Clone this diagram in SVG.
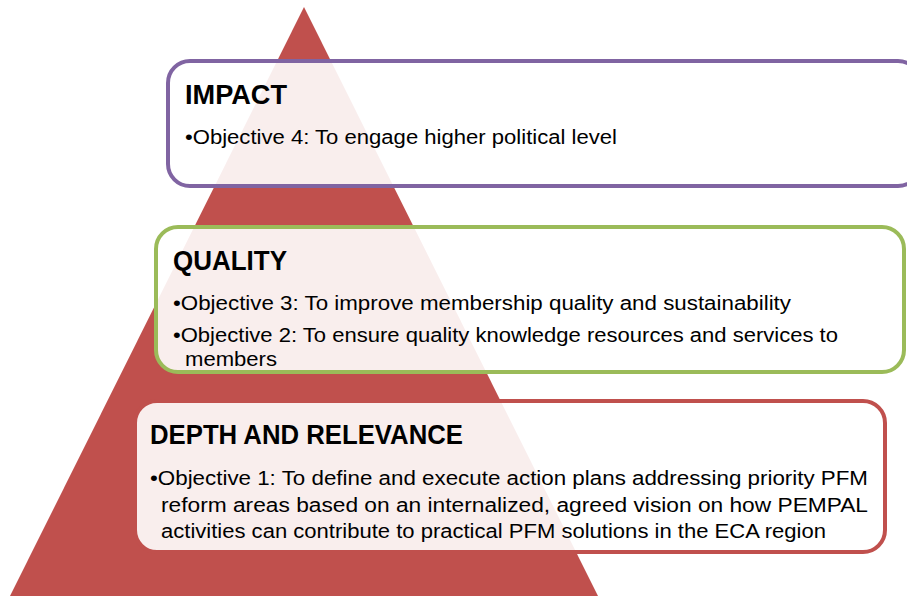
<svg xmlns="http://www.w3.org/2000/svg" width="907" height="596" viewBox="0 0 907 596">
<style>
.box{fill:#ffffff;fill-opacity:0.9;stroke-width:4}
.h{font-family:"Liberation Sans",Arial,sans-serif;font-weight:bold;font-size:27px;fill:#000}
.t{font-family:"Liberation Sans",Arial,sans-serif;font-size:20px;fill:#000}
</style>
<rect width="907" height="596" fill="#ffffff"/>
<polygon id="pyramid" points="304,7 10,596 598,596" fill="#C0504D"/>
<g id="impact">
<rect class="box" x="168" y="61" width="752" height="125" rx="22" stroke="#8064A2"/>
<text class="h" x="185" y="104" textLength="102" lengthAdjust="spacingAndGlyphs">IMPACT</text>
<text class="t" x="185" y="144" textLength="432" lengthAdjust="spacingAndGlyphs">•Objective 4: To engage higher political level</text>
</g>
<g id="quality">
<rect class="box" x="156" y="227" width="748" height="145" rx="22" stroke="#9BBB59"/>
<text class="h" x="173" y="270" textLength="114" lengthAdjust="spacingAndGlyphs">QUALITY</text>
<text class="t" x="173" y="310" textLength="618" lengthAdjust="spacingAndGlyphs">•Objective 3: To improve membership quality and sustainability</text>
<text class="t" x="173" y="342" textLength="665" lengthAdjust="spacingAndGlyphs">•Objective 2: To ensure quality knowledge resources and services to</text>
<text class="t" x="185" y="366" textLength="92" lengthAdjust="spacingAndGlyphs">members</text>
</g>
<g id="depth">
<rect class="box" x="135" y="401" width="750" height="151" rx="22" stroke="#C0504D"/>
<text class="h" x="150" y="444" textLength="313" lengthAdjust="spacingAndGlyphs">DEPTH AND RELEVANCE</text>
<text class="t" x="150" y="485" textLength="718" lengthAdjust="spacingAndGlyphs">•Objective 1: To define and execute action plans addressing priority PFM</text>
<text class="t" x="161" y="512" textLength="707" lengthAdjust="spacingAndGlyphs">reform areas based on an internalized, agreed vision on how PEMPAL</text>
<text class="t" x="161" y="538" textLength="665" lengthAdjust="spacingAndGlyphs">activities can contribute to practical PFM solutions in the ECA region</text>
</g>
<g id="connectors"/>
</svg>
